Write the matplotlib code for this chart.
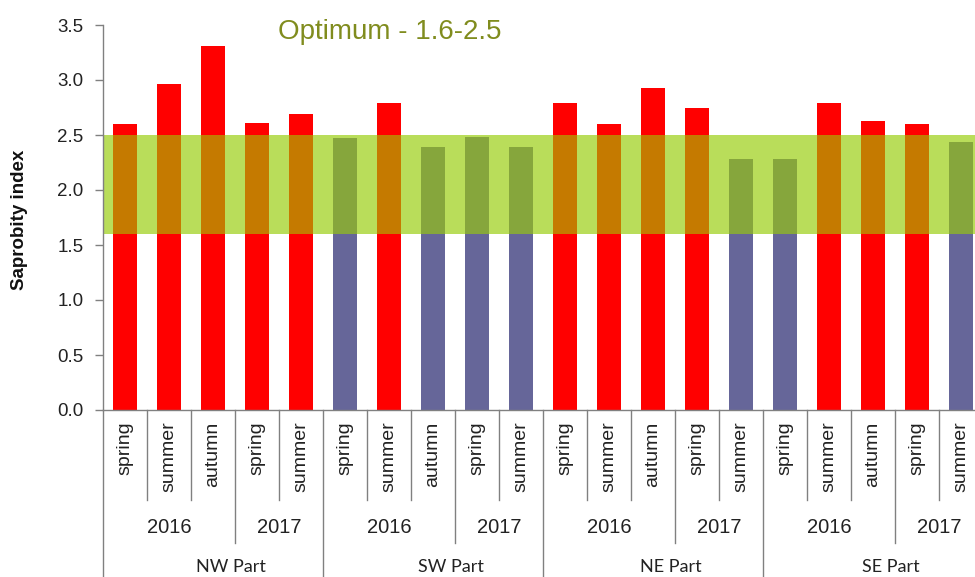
import numpy as np
import matplotlib.pyplot as plt
from matplotlib.transforms import blended_transform_factory

plt.rcParams['font.family'] = ['Liberation Sans', 'DejaVu Sans']

parts = ['NW Part', 'SW Part', 'NE Part', 'SE Part']
years = ['2016', '2017']
seasons = {'2016': ['spring', 'summer', 'autumn'],
           '2017': ['spring', 'summer']}

# saprobity index per part / year / season, in plotting order
saprobity = [2.60, 2.96, 3.31, 2.61, 2.69,
             2.47, 2.79, 2.39, 2.48, 2.39,
             2.79, 2.60, 2.93, 2.75, 2.28,
             2.28, 2.79, 2.63, 2.60, 2.44]

opt_low, opt_high = 1.6, 2.5

red, blue = '#ff0000', '#666699'
band = '#b9dd5a'
red_in_band, blue_in_band = '#c57a00', '#86a63c'
line_c = '#808080'

vals = np.array(saprobity)
x = np.arange(len(vals))
over = vals > opt_high

fig = plt.figure(figsize=(9.75, 5.77), dpi=100)
ax = fig.add_axes([103 / 975, 167 / 577, 880 / 975, 385 / 577])

ax.axhspan(opt_low, opt_high, color=band, lw=0, zorder=1)
ax.bar(x, vals, width=0.55, color=np.where(over, red, blue), zorder=2)
# part of each bar lying inside the optimum band
tops = np.minimum(vals, opt_high)
ax.bar(x, tops - opt_low, bottom=opt_low, width=0.55,
       color=np.where(over, red_in_band, blue_in_band), zorder=3)

ax.set_xlim(-0.5, len(vals) - 0.5)
ax.set_ylim(0, 3.5)
ax.set_yticks(np.arange(0, 3.51, 0.5))
ax.set_yticklabels(['%.1f' % v for v in np.arange(0, 3.51, 0.5)])
ax.set_xticks([])
ax.tick_params(axis='y', length=6, width=1, color=line_c, pad=8,
               labelsize=13.5, labelcolor='#222222')
for s in ['top', 'right']:
    ax.spines[s].set_visible(False)
for s in ['left', 'bottom']:
    ax.spines[s].set_color(line_c)
    ax.spines[s].set_linewidth(1)

trans = blended_transform_factory(ax.transData, ax.transAxes)

def vline(xpos, depth):
    ax.plot([xpos, xpos], [0, depth], color=line_c, lw=1,
            transform=trans, clip_on=False)

i = 0
for p in parts:
    part_start = i
    vline(i - 0.5, -0.46)
    for k, y in enumerate(years):
        year_start = i
        if k > 0:
            vline(i - 0.5, -0.345)
        for j, s in enumerate(seasons[y]):
            if j > 0:
                vline(i - 0.5, -0.234)
            ax.text(i, -0.03, s, rotation=90, ha='center', va='top',
                    fontsize=14, color='#222222', transform=trans)
            i += 1
        ax.text((year_start + i - 1) / 2, -0.306, y, ha='center',
                va='center', fontsize=14.5, color='#222222', transform=trans)
    ax.text((part_start + i - 1) / 2 + 0.4, -0.408, p, ha='center',
            va='center', fontsize=13, color='#222222', transform=trans,
            family=['Lato', 'DejaVu Sans'])

fig.text(20 / 975, 1 - 220 / 577, 'Saprobity index', rotation=90,
         ha='center', va='center', fontsize=13.5, fontweight='bold',
         color='#111111')
fig.text(278 / 975, 1 - 32 / 577, 'Optimum - 1.6-2.5', ha='left',
         va='center', fontsize=20, color='#808c1e')

fig.savefig('out.png', dpi=100)
